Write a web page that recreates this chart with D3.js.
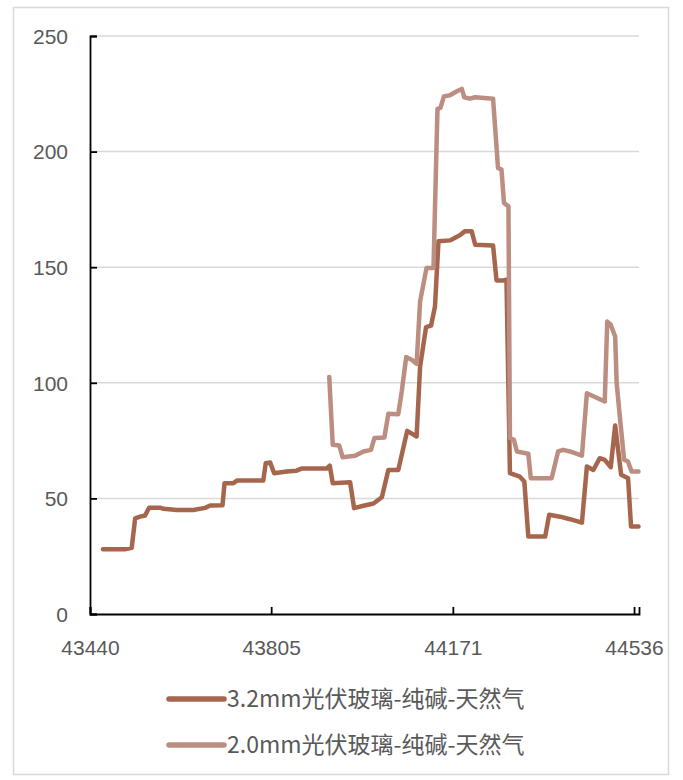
<!DOCTYPE html>
<html>
<head>
<meta charset="utf-8">
<script src="https://cdn.jsdelivr.net/npm/d3@7"></script>
<style>
  html, body { margin: 0; padding: 0; background: #fff; }
  svg { display: block; }
</style>
</head>
<body>
<svg id="chart" width="683" height="780"></svg>
<script>
// ---- Data ----
const seriesNames = ["3.2mm光伏玻璃-纯碱-天然气", "2.0mm光伏玻璃-纯碱-天然气"];
const xTicks = [43440, 43805, 44171, 44536];
const yTicks = [0, 50, 100, 150, 200, 250];

const dates32 = [43466,43510,43524,43531,43541,43551,43559,43581,43588,43615,43648,43672,43682,43707,43711,43729,43736,43789,43794,43803,43811,43836,43856,43866,43917,43923,43929,43964,43972,43991,44011,44028,44041,44061,44079,44098,44105,44117,44127,44135,44142,44165,44185,44195,44209,44216,44252,44259,44273,44279,44286,44306,44315,44323,44357,44365,44387,44407,44431,44441,44454,44467,44477,44489,44498,44510,44524,44530,44545];
const values32 = [28.0,28.0,28.6,41.4,42.1,42.6,46.0,46.0,45.5,45.0,45.0,45.9,46.9,47.0,56.6,56.6,57.7,57.7,65.2,65.5,60.9,61.6,62.0,62.9,62.9,64.2,56.6,57.0,45.8,46.8,47.8,50.5,62.3,62.3,79.2,76.8,107,124.1,124.7,133,161.2,161.6,163.8,165.5,165.5,159.7,159.4,144.3,144.3,144.6,60.9,59.4,57.3,33.5,33.5,42.9,42.1,41.0,39.5,63.8,62.3,67.4,66.7,63.5,81.5,60.2,58.7,37.8,37.8];

const dates20 = [43922,43929,43942,43949,43974,43991,44006,44013,44033,44041,44061,44068,44077,44088,44098,44105,44118,44132,44140,44146,44153,44165,44179,44189,44194,44205,44216,44252,44262,44269,44274,44283,44286,44294,44300,44323,44328,44370,44383,44393,44407,44431,44441,44477,44482,44489,44498,44501,44508,44516,44524,44531,44545];
const values20 = [102.5,73.2,72.9,67.8,68.4,70.3,71.0,76.1,76.3,86.6,86.4,96.2,111.1,110.0,108.2,135.2,149.7,149.7,218.5,218.9,223.9,224.4,226.1,227.1,223.5,222.9,223.5,222.9,192.9,192.2,177.8,176.3,76.1,75.3,70.3,69.3,58.7,58.7,70.3,71.0,70.3,68.5,95.5,91.9,126.5,125.1,120.0,99.9,84.0,66.7,65.9,61.6,61.6];

const colors = ["#A6664D", "#BB8E81"];

// ---- Layout ----
const svg = d3.select("#chart");
const plotL = 90, plotR = 639, plotT = 36, plotB = 614;
const x = d3.scaleLinear().domain([43440, 44546]).range([plotL, plotR]);
const y = d3.scaleLinear().domain([0, 250]).range([plotB, plotT]);

// outer border
svg.append("rect")
  .attr("x", 13.5).attr("y", 7.5).attr("width", 655).attr("height", 767)
  .attr("fill", "#fff").attr("stroke", "#D9D9D9").attr("stroke-width", 1.5);

// gridlines
svg.append("g").selectAll("line")
  .data(yTicks.filter(d => d > 0))
  .join("line")
  .attr("x1", plotL).attr("x2", plotR)
  .attr("y1", d => y(d)).attr("y2", d => y(d))
  .attr("stroke", "#D9D9D9").attr("stroke-width", 1.5);

// series
const s32 = dates32.map((d, i) => [d, values32[i]]);
const s20 = dates20.map((d, i) => [d, values20[i]]);
const line = d3.line().x(d => x(d[0])).y(d => y(d[1]));

[s32, s20].forEach((s, i) => {
  svg.append("path")
    .datum(s)
    .attr("d", line)
    .attr("fill", "none")
    .attr("stroke", colors[i])
    .attr("stroke-width", 4.5)
    .attr("stroke-linejoin", "round")
    .attr("stroke-linecap", "round");
});

// axes
const xAxis = d3.axisBottom(x).tickValues(xTicks).tickSize(-7).tickPadding(0).tickFormat(d3.format("d"));
const gx = svg.append("g").attr("transform", `translate(0,${plotB})`).call(xAxis);
gx.select(".domain").attr("stroke", "#000").attr("stroke-width", 1.8);
gx.selectAll(".tick line").attr("stroke", "#000").attr("stroke-width", 1.8);
gx.selectAll(".tick text")
  .attr("y", 41).attr("dy", "0")
  .attr("fill", "#595959")
  .style("font-family", "'Liberation Sans', Arial, sans-serif")
  .style("font-size", "21px");

const yAxis = d3.axisLeft(y).tickValues(yTicks).tickSize(-7).tickPadding(0);
const gy = svg.append("g").attr("transform", `translate(${plotL},0)`).call(yAxis);
gy.select(".domain").attr("stroke", "#000").attr("stroke-width", 1.8);
gy.selectAll(".tick line").attr("stroke", "#000").attr("stroke-width", 1.8);
gy.selectAll(".tick text")
  .attr("x", -22).attr("dy", "0.35em")
  .attr("fill", "#595959")
  .style("font-family", "'Liberation Sans', Arial, sans-serif")
  .style("font-size", "21px");

// legend
const legendY = [699, 745];
const lg = svg.append("g");
seriesNames.forEach((name, i) => {
  lg.append("line")
    .attr("x1", 169).attr("x2", 224)
    .attr("y1", legendY[i]).attr("y2", legendY[i])
    .attr("stroke", colors[i]).attr("stroke-width", 5.5)
    .attr("stroke-linecap", "round");
  lg.append("text")
    .attr("x", 227).attr("y", legendY[i]).attr("dy", "0.35em")
    .attr("fill", "#595959")
    .style("font-family", "'Noto Sans CJK SC', 'Noto Sans', sans-serif")
    .style("font-size", "23px")
    .text(name);
});
</script>
</body>
</html>
